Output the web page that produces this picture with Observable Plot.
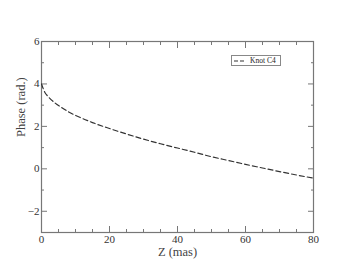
<!DOCTYPE html>
<html><head><meta charset="utf-8">
<script src="https://cdn.jsdelivr.net/npm/d3@7"></script>
<script src="https://cdn.jsdelivr.net/npm/@observablehq/plot@0.6"></script>
<style>
body{margin:0;background:#fff;}
#wrap{position:relative;width:353px;height:273px;font-family:"Liberation Serif",serif;}
#legend{position:absolute;left:231px;top:55px;width:50px;height:11px;border:1px solid #888;background:#fff;font-size:7.5px;color:#222;display:flex;align-items:center;box-sizing:border-box;}
#legend svg{margin-left:2px;margin-right:4px;}
svg text{font-family:"Liberation Serif",serif;}
</style></head>
<body><div id="wrap"><div id="legend"><svg width="12" height="4"><line x1="0" y1="2" x2="12" y2="2" stroke="#333" stroke-width="1.2" stroke-dasharray="4,2"/></svg><span>Knot C4</span></div></div>
<script>
const zValues = [0,1,2,4,6,8,10,15,20,25,30,35,40,45,50,55,60,65,70,75,80];
const phaseValues = [4.0,3.6,3.4,3.1,2.88,2.68,2.52,2.18,1.90,1.64,1.40,1.18,0.98,0.78,0.57,0.39,0.21,0.04,-0.13,-0.29,-0.44];
const xMajorTicks = [0,20,40,60,80];
const xMinorTicks = [5,10,15,25,30,35,45,50,55,65,70,75];
const yMajorTicks = [-2,0,2,4,6];
const yMinorTicks = [-3,-1,1,3,5];
const xTitle = ["Z (mas)"];
const yTitle = ["Phase (rad.)"];
const data = zValues.map((z,i)=>({z, phase: phaseValues[i]}));
const axisColor = "#777";
const fs = 11;
const chart = Plot.plot({
  width: 353, height: 273,
  marginLeft: 41, marginRight: 40, marginTop: 41, marginBottom: 41,
  style: {fontFamily: "Liberation Serif, serif", fontSize: "11px", color: "#333", background: "#fff"},
  x: {domain: [0,80]},
  y: {domain: [-3,6]},
  marks: [
    Plot.frame({stroke: axisColor, strokeWidth: 1.2}),
    Plot.axisX({anchor:"bottom", ticks: xMajorTicks, tickSize: 0, tickPadding: 3, fontSize: fs, label: null, stroke: axisColor, fill: "#333"}),
    Plot.axisX({anchor:"bottom", ticks: xMajorTicks, tickSize: -6, stroke: axisColor, fill: "none", label: null}),
    Plot.axisX({anchor:"bottom", ticks: xMinorTicks, tickSize: -3, stroke: axisColor, fill: "none", label: null}),
    Plot.axisX({anchor:"top", ticks: xMajorTicks, tickSize: -6, stroke: axisColor, fill: "none", label: null}),
    Plot.axisX({anchor:"top", ticks: xMinorTicks, tickSize: -3, stroke: axisColor, fill: "none", label: null}),
    Plot.axisY({anchor:"left", ticks: yMajorTicks, tickSize: 0, tickPadding: 2, fontSize: fs, label: null, fill: "#333"}),
    Plot.axisY({anchor:"left", ticks: yMajorTicks, tickSize: -6, stroke: axisColor, fill: "none", label: null}),
    Plot.axisY({anchor:"left", ticks: yMinorTicks, tickSize: -3, stroke: axisColor, fill: "none", label: null}),
    Plot.axisY({anchor:"right", ticks: yMajorTicks, tickSize: -6, stroke: axisColor, fill: "none", label: null}),
    Plot.axisY({anchor:"right", ticks: yMinorTicks, tickSize: -3, stroke: axisColor, fill: "none", label: null}),
    Plot.text(xTitle, {text: d => d, frameAnchor: "bottom", dy: 19.5, lineAnchor: "middle", fontSize: 12.5, fill: "#444"}),
    Plot.text(yTitle, {text: d => d, frameAnchor: "left", dx: -21, rotate: -90, lineAnchor: "middle", fontSize: 12.5, fill: "#444"}),
    Plot.line(data, {x: "z", y: "phase", stroke: "#333", strokeWidth: 1.2, strokeDasharray: "5,3", curve: "monotone-x"})
  ]
});
document.getElementById("wrap").prepend(chart);
chart.style.position = "absolute"; chart.style.left = "0"; chart.style.top = "0";
</script></body></html>
